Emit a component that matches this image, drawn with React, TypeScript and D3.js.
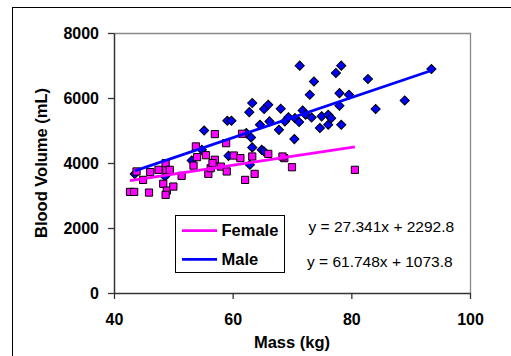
import React, { useEffect, useRef } from 'react';
import * as d3 from 'd3';

// female data (mass kg, blood volume mL)
const femaleMass = [42.7, 43.4, 43.8, 44.9, 45.9, 46.1, 47.5, 48.8, 48.7, 48.3, 48.9, 48.7, 49.4, 50.0, 51.4, 53.4, 53.8, 54.0, 55.5, 55.9, 56.3, 57.0, 57.0, 56.6, 58.0, 58.9, 59.0, 60.2, 61.3, 61.6, 62.1, 63.3, 63.7, 66.0, 68.7, 68.4, 70.0, 80.6];
const femaleVolume = [3110, 3110, 3740, 3480, 3090, 3720, 3790, 3790, 3995, 3360, 3150, 3020, 3790, 3275, 3605, 3920, 4510, 4180, 4240, 3665, 3840, 4890, 4100, 3995, 3890, 4610, 3740, 4230, 4150, 4900, 3480, 4200, 3665, 4280, 4150, 4200, 3870, 3790];

// male data
const maleMass = [43.5, 48.6, 53.1, 54.8, 55.2, 59.1, 59.8, 59.3, 62.8, 63.3, 62.3, 63.1, 63.3, 62.9, 64.6, 65.3, 66.0, 66.2, 64.9, 65.3, 68.1, 67.8, 68.8, 69.4, 70.4, 70.5, 71.2, 71.3, 71.8, 72.3, 73.0, 73.3, 73.7, 74.7, 75.0, 76.1, 76.1, 76.6, 77.4, 78.0, 78.0, 78.3, 78.3, 79.6, 82.8, 84.1, 89.0, 93.5];
const maleVolume = [3665, 3585, 4075, 4405, 5000, 5300, 5300, 4220, 5565, 5845, 4920, 4785, 4480, 3945, 5175, 5660, 5790, 5280, 4405, 4355, 5670, 5020, 5280, 5410, 4735, 5380, 5260, 6995, 5615, 5485, 6100, 5400, 6510, 5075, 5435, 5485, 5175, 5380, 6770, 6150, 5760, 6995, 5175, 6100, 6585, 5660, 5925, 6890];

// trendlines
const femaleSlope = 27.341;
const femaleIntercept = 2292.8;
const maleSlope = 61.748;
const maleIntercept = 1073.8;

const xTicks = [40, 60, 80, 100];
const yTicks = [0, 2000, 4000, 6000, 8000];

const FONT = "'Liberation Sans', Arial, sans-serif";

function Chart() {
    const ref = useRef(null);

    useEffect(() => {
        if (!ref.current) return;
        const svg = d3.select(ref.current);
        svg.selectAll("*").remove();

        const x = d3.scaleLinear().domain([40, 100]).range([114, 470]);
        const y = d3.scaleLinear().domain([0, 8000]).range([293, 33]);

        // outer chart border
        svg.append("rect")
            .attr("x", 12.5).attr("y", 7.5)
            .attr("width", 540).attr("height", 400)
            .attr("fill", "white").attr("stroke", "black");

        // plot area top / right border
        svg.append("path")
            .attr("d", `M${x(40)},${y(8000) + 0.5}H${x(100) + 0.5}V${y(0)}`)
            .attr("fill", "none").attr("stroke", "#888").attr("stroke-width", 1.3);

        const xAxis = svg.append("g")
            .attr("transform", `translate(0,${y(0)})`)
            .call(d3.axisBottom(x).tickValues(xTicks).tickSizeInner(6).tickSizeOuter(0).tickPadding(15).tickFormat(d3.format("d")));
        const yAxis = svg.append("g")
            .attr("transform", `translate(${x(40)},0)`)
            .call(d3.axisLeft(y).tickValues(yTicks).tickSizeInner(6).tickSizeOuter(0).tickPadding(9).tickFormat(d3.format("d")));

        [xAxis, yAxis].forEach(g => {
            g.select(".domain").attr("stroke", "#333").attr("stroke-width", 1.5);
            g.selectAll(".tick line").attr("stroke", "#333").attr("stroke-width", 1.3);
            g.selectAll(".tick text")
                .attr("fill", "black")
                .style("font-family", FONT)
                .style("font-size", "16px")
                .style("font-weight", "bold");
        });

        // axis titles
        svg.append("text")
            .attr("x", 292).attr("y", 348)
            .attr("text-anchor", "middle")
            .style("font-family", FONT).style("font-size", "16.5px").style("font-weight", "bold")
            .text("Mass (kg)");
        svg.append("text")
            .attr("transform", "translate(46.5,163) rotate(-90)")
            .attr("text-anchor", "middle")
            .style("font-family", FONT).style("font-size", "16.5px").style("font-weight", "bold")
            .text("Blood Volume (mL)");

        const male = maleMass.map((m, i) => ({ m, v: maleVolume[i] }));
        const female = femaleMass.map((m, i) => ({ m, v: femaleVolume[i] }));

        // male diamonds
        svg.append("g")
            .selectAll("path")
            .data(male)
            .join("path")
            .attr("d", d3.symbol(d3.symbolSquare, 42))
            .attr("transform", d => `translate(${x(d.m)},${y(d.v)}) rotate(45)`)
            .attr("fill", "#0000FF")
            .attr("stroke", "black")
            .attr("stroke-width", 1);

        // female squares
        svg.append("g")
            .selectAll("path")
            .data(female)
            .join("path")
            .attr("d", d3.symbol(d3.symbolSquare, 52))
            .attr("transform", d => `translate(${x(d.m)},${y(d.v)})`)
            .attr("fill", "#FF00FF")
            .attr("stroke", "black")
            .attr("stroke-width", 1);

        // trendlines
        const fExt = d3.extent(femaleMass);
        const mExt = d3.extent(maleMass);
        const line = d3.line().x(d => x(d[0])).y(d => y(d[1]));
        svg.append("path")
            .attr("d", line(fExt.map(m => [m, femaleSlope * m + femaleIntercept])))
            .attr("stroke", "#FF00FF").attr("stroke-width", 2.8).attr("fill", "none");
        svg.append("path")
            .attr("d", line(mExt.map(m => [m, maleSlope * m + maleIntercept])))
            .attr("stroke", "#0000FF").attr("stroke-width", 2.8).attr("fill", "none");

        // legend
        const lg = svg.append("g");
        lg.append("rect")
            .attr("x", 175.5).attr("y", 215.5)
            .attr("width", 109).attr("height", 57)
            .attr("fill", "white").attr("stroke", "black");
        [["Female", "#FF00FF", 230.7, 236.3], ["Male", "#0000FF", 259.3, 265]].forEach(([name, color, ly, ty]) => {
            lg.append("line")
                .attr("x1", 182).attr("x2", 217).attr("y1", ly).attr("y2", ly)
                .attr("stroke", color).attr("stroke-width", 2.8);
            lg.append("text")
                .attr("x", 221.5).attr("y", ty)
                .style("font-family", FONT).style("font-size", "16.5px").style("font-weight", "bold")
                .text(name);
        });

        // equations
        svg.append("text")
            .attr("x", 308.5).attr("y", 231.5)
            .style("font-family", FONT).style("font-size", "15.5px")
            .text(`y = ${femaleSlope}x + ${femaleIntercept}`);
        svg.append("text")
            .attr("x", 307).attr("y", 266.5)
            .style("font-family", FONT).style("font-size", "15.5px")
            .text(`y = ${maleSlope}x + ${maleIntercept}`);
    }, []);

    return (
        <svg
            ref={ref}
            width={511}
            height={356}
            style={{ position: "absolute", left: 0, top: 0, background: "white" }}
        />
    );
}

export default function App() {
    return <Chart />;
}
